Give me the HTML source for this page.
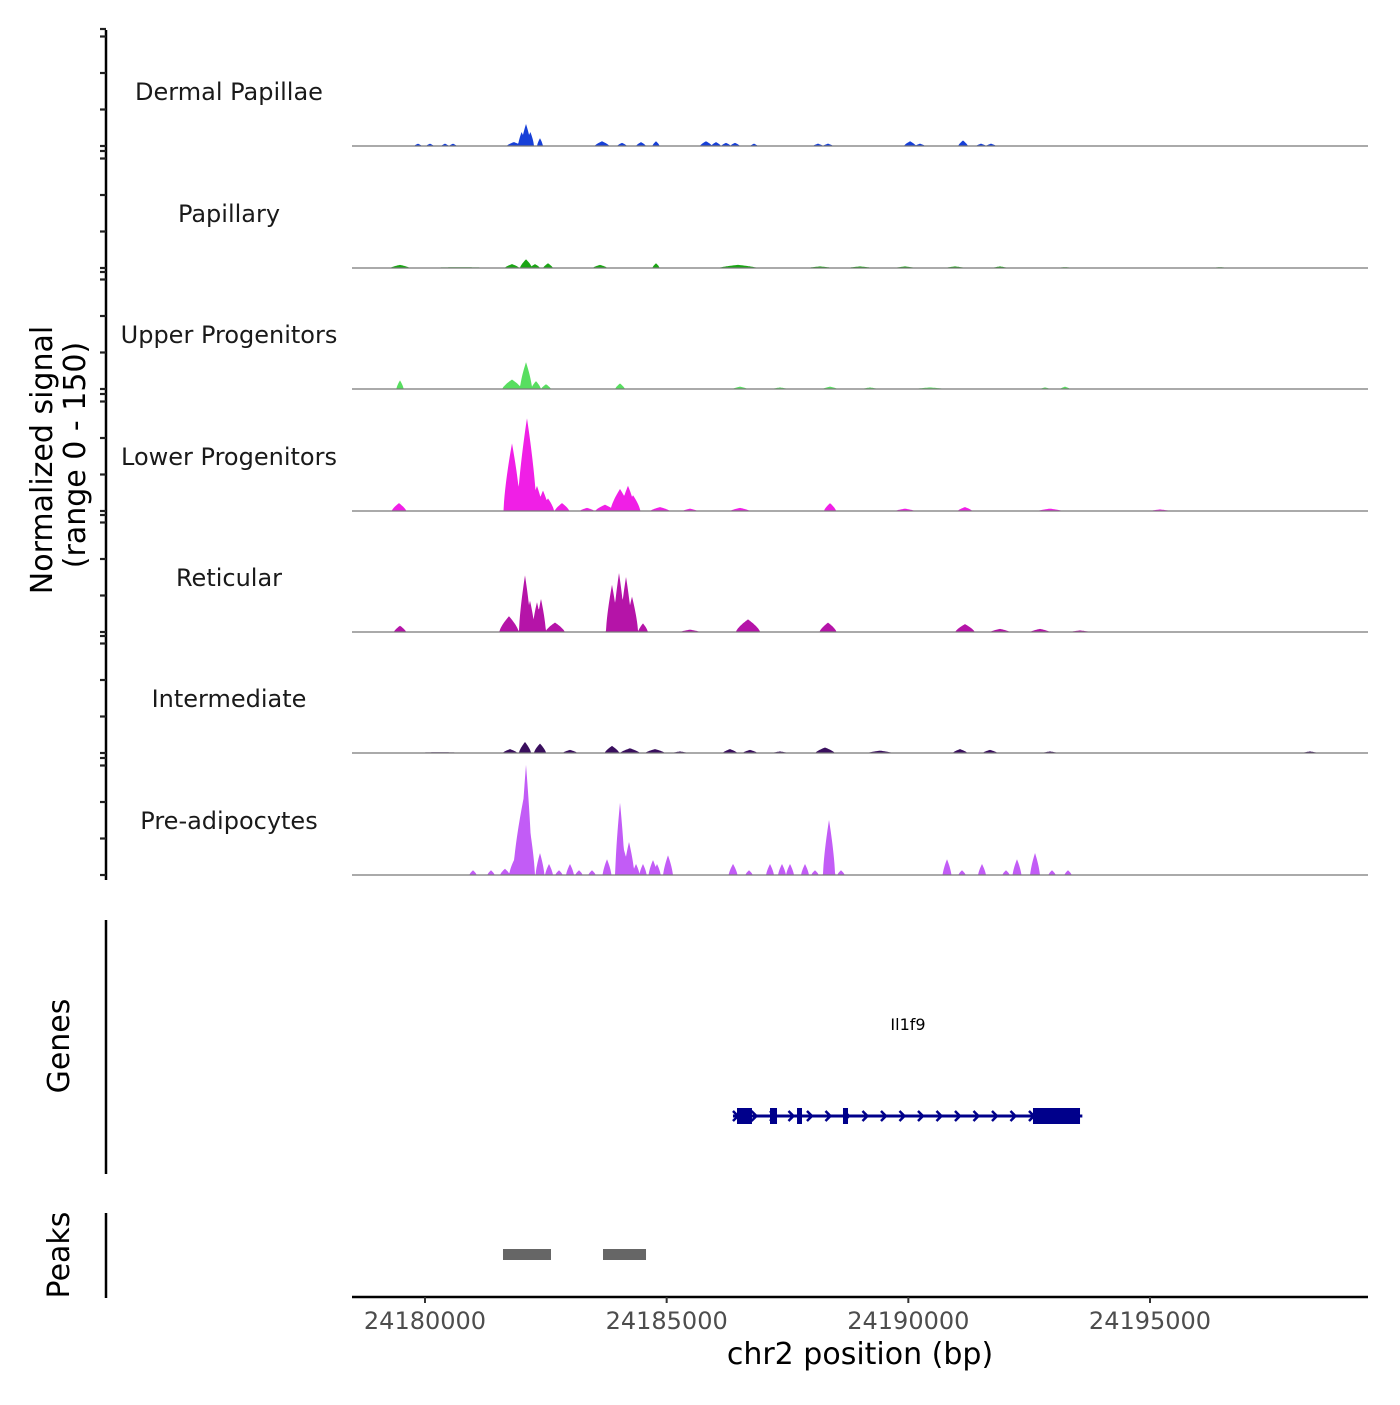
<!DOCTYPE html>
<html><head><meta charset="utf-8"><style>
body{margin:0;background:#fff;font-family:"Liberation Sans","DejaVu Sans",sans-serif}
svg text{font-family:"DejaVu Sans","Liberation Sans",sans-serif}
</style></head><body>
<svg id="chart" width="1400" height="1400" viewBox="0 0 1400 1400" xmlns="http://www.w3.org/2000/svg">
<g id="tracks"></g>
<g id="axis"></g>
<text transform="translate(52,460) rotate(-90)" text-anchor="middle" font-size="30">Normalized signal</text>
<text transform="translate(85,455) rotate(-90)" text-anchor="middle" font-size="30">(range 0 - 150)</text>
<line x1="106" y1="920" x2="106" y2="1174" stroke="#000" stroke-width="2.5"/>
<text transform="translate(69,1046) rotate(-90)" text-anchor="middle" font-size="30">Genes</text>
<line x1="106" y1="1213" x2="106" y2="1298" stroke="#000" stroke-width="2.5"/>
<text transform="translate(69,1255) rotate(-90)" text-anchor="middle" font-size="30">Peaks</text>
<g id="genes"></g>
<g id="peaks"></g>
<g id="xaxis"></g>
<text x="860" y="1364" text-anchor="middle" font-size="30">chr2 position (bp)</text>
</svg>
<script>
const NS="http://www.w3.org/2000/svg";
const trackNames=["Dermal Papillae","Papillary","Upper Progenitors","Lower Progenitors","Reticular","Intermediate","Pre-adipocytes"];
const trackColors=["#1740d8","#1aa514","#58de60","#f01fe6","#b514a8","#3a0f5e","#c25cf6"];
const xTicks=[24180000,24185000,24190000,24195000];
// peaks: positions (bp), values (signal), widths (bp)
const dpPos=[24179855,24180103,24180414,24180579,24181841,24182000,24182090,24182180,24182379,24183662,24184076,24184469,24184779,24185814,24186021,24186228,24186414,24186807,24188131,24188338,24190035,24190242,24191131,24191504,24191711];
const dpVal=[3,3,3,3,5,18,28,18,10,6,4,5,6,6,5,4,4,3,3,3,6,3,7,3,3];
const dpWid=[150,150,150,150,300,150,200,150,120,300,200,200,150,250,200,200,200,150,200,200,250,200,200,200,200];
const paPos=[24179483,24180724,24181800,24182090,24182276,24182545,24183621,24184779,24186476,24188172,24189000,24189931,24190966,24191897,24193242,24196449];
const paVal=[4,1,5,11,5,6,4,6,4,2,2,2,2,2,1,1];
const paWid=[400,2000,300,250,200,200,300,150,800,500,500,400,400,300,400,400];
const upPos=[24179483,24181800,24182090,24182297,24182504,24184035,24186518,24187345,24188380,24189207,24190449,24192828,24193242];
const upVal=[11,12,34,10,6,7,3,2,3,2,2,2,3];
const upWid=[150,400,250,200,200,200,300,300,300,300,600,200,200];
const loPos=[24179462,24181800,24182110,24182317,24182441,24182545,24182835,24183352,24183724,24184035,24184200,24184304,24184862,24185483,24186518,24188380,24189931,24191172,24192931,24195207];
const loVal=[10,86,118,32,26,16,10,4,8,28,32,20,5,3,4,10,3,5,3,2];
const loWid=[300,350,400,250,250,250,300,300,400,400,300,300,400,300,400,250,400,300,500,400];
const rePos=[24179483,24181738,24182069,24182172,24182317,24182400,24182690,24183869,24184014,24184159,24184283,24184510,24185483,24186683,24188338,24191172,24191897,24192724,24193552];
const reVal=[8,20,72,40,38,42,12,60,75,70,45,11,3,16,12,10,4,4,2];
const reWid=[250,400,250,200,200,200,400,250,250,250,250,200,400,500,350,400,400,400,400];
const inPos=[24180310,24181759,24182069,24182379,24183000,24183869,24184241,24184759,24185276,24186310,24186724,24187345,24188276,24189414,24191069,24191690,24192931,24198311];
const inVal=[1,5,14,12,4,9,6,5,2,5,4,2,7,3,5,4,2,2];
const inWid=[1500,300,250,250,300,300,400,400,300,300,300,300,400,500,300,300,300,300];
const adPos=[24180993,24181366,24181655,24181841,24182048,24182090,24182379,24182566,24182772,24183000,24183186,24183455,24183766,24184035,24184097,24184221,24184366,24184510,24184717,24184800,24185028,24186373,24186704,24187138,24187386,24187552,24187862,24188069,24188359,24188607,24190800,24191111,24191524,24192021,24192248,24192621,24192973,24193304];
const adVal=[6,6,8,19,100,140,28,14,6,14,6,6,20,92,36,42,14,14,19,14,25,14,6,14,14,14,14,6,70,6,20,6,14,6,20,28,6,6];
const adWid=[150,150,200,200,450,250,180,160,150,160,150,150,180,200,250,220,150,150,180,150,200,180,150,160,160,160,160,150,250,150,180,150,160,150,180,200,150,150];
const geneExonStart=[24186455,24187138,24187697,24188648,24192579];
const geneExonEnd=[24186765,24187283,24187800,24188752,24193552];
const peakStart=[24181614,24183683];
const peakEnd=[24182607,24184573];

const trackPos=[dpPos,paPos,upPos,loPos,rePos,inPos,adPos];
const trackVal=[dpVal,paVal,upVal,loVal,reVal,inVal,adVal];
const trackWid=[dpWid,paWid,upWid,loWid,reWid,inWid,adWid];

const X0=352,X1=1368,D0=24178490,D1=24199510;
function xs(bp){return X0+(bp-D0)/(D1-D0)*(X1-X0);}
const baseY=[146,268,389,511,632,753,875];
function ys(v,i){return baseY[i]-v*118/150;}
function mk(tag,attrs,parent){const e=document.createElementNS(NS,tag);for(const k in attrs)e.setAttribute(k,attrs[k]);parent.appendChild(e);return e;}

const tg=document.getElementById('tracks');
trackNames.forEach((name,i)=>{
  const g=mk('g',{},tg);
  
  
  const pos=trackPos[i],val=trackVal[i],wid=trackWid[i];
  const dMin=Math.min(...pos.map((p,k)=>p-wid[k]/2)),dMax=Math.max(...pos.map((p,k)=>p+wid[k]/2));
  let d='M'+xs(dMin).toFixed(1)+','+baseY[i];
  for(let px=Math.floor(xs(dMin));px<=Math.ceil(xs(dMax));px+=0.5){
    const bp=D0+(px-X0)/(X1-X0)*(D1-D0);
    let v=0;
    for(let k=0;k<pos.length;k++){const h=wid[k]/2,dd=Math.abs(bp-pos[k]);if(dd<h){const f=Math.pow(1-dd/h,0.7);v=Math.max(v,val[k]*f);}}
    d+=' L'+px.toFixed(1)+','+ys(v,i).toFixed(1);
  }
  d+=' L'+xs(dMax).toFixed(1)+','+baseY[i]+' Z';
  const a=mk('path',{d:d,fill:trackColors[i]},g);
  
  
  const bl=mk('line',{x1:X0,x2:X1,y1:baseY[i],y2:baseY[i],stroke:'#777','stroke-width':1.2},g);
  
  
  const t=mk('text',{x:229,y:baseY[i]-46,'text-anchor':'middle','font-size':24,fill:'#1a1a1a'},g);
  t.textContent=name;
  
  
});

const ax=document.getElementById('axis');
const al=mk('line',{x1:106,x2:106,y1:30,y2:880,stroke:'#000','stroke-width':2.5},ax);


baseY.forEach(b=>{[0,36.5,73,109.5,117].forEach(o=>{
  const tk=mk('line',{x1:100,x2:106,y1:b-o,y2:b-o,stroke:'#222','stroke-width':2.2},ax);
  
  
});});

// genes
const gg=document.getElementById('genes');
const gy=1116,gStart=24186372,gEnd=24193600;
mk('line',{x1:xs(gStart),x2:xs(gEnd),y1:gy,y2:gy,stroke:'#00008b','stroke-width':3},gg);
for(let x=xs(gStart)+3;x<xs(gEnd)-5;x+=18.5){
  mk('polyline',{points:`${x-3},${gy-5} ${x+2},${gy} ${x-3},${gy+5}`,fill:'none',stroke:'#00008b','stroke-width':2.5},gg);
}
geneExonStart.forEach((s,k)=>{
  const r=mk('rect',{x:xs(s),y:gy-8,width:xs(geneExonEnd[k])-xs(s),height:16,fill:'#00008b'},gg);
  
  
});
const gl=mk('text',{x:908,y:1030,'text-anchor':'middle','font-size':16},gg);
gl.textContent='Il1f9';



// peaks
const pg=document.getElementById('peaks');
peakStart.forEach((s,k)=>{
  const r=mk('rect',{x:xs(s),y:1249,width:xs(peakEnd[k])-xs(s),height:11,fill:'#666'},pg);
  
  
});

// x axis
const xg=document.getElementById('xaxis');
mk('line',{x1:X0,x2:X1,y1:1297,y2:1297,stroke:'#000','stroke-width':2.5},xg);
xTicks.forEach(v=>{
  const x=xs(v);
  const tk=mk('line',{x1:x,x2:x,y1:1297,y2:1303,stroke:'#333','stroke-width':2},xg);
  
  
  const t=mk('text',{x:x,y:1329,'text-anchor':'middle','font-size':24,fill:'#4d4d4d'},xg);
  t.textContent=v;
  
  
});
</script>
</body></html>
